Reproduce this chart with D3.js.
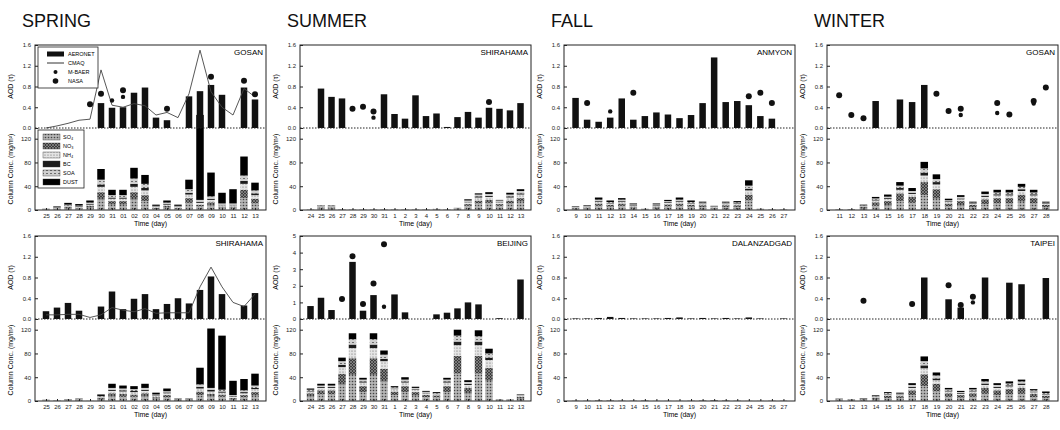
<!DOCTYPE html>
<html>
<head>
<meta charset="utf-8">
<script src="https://cdn.jsdelivr.net/npm/d3@7"></script>
<style>
  body { margin: 0; background: #fff; }
  svg { font-family: "Liberation Sans", Arial, sans-serif; }
</style>
</head>
<body>
<div id="chart"></div>
<script>
// ---- data ----
const seasons = ["SPRING", "SUMMER", "FALL", "WINTER"];
const species = ["SO₄", "NO₃", "NH₄", "BC", "SOA", "DUST"];

const springDays = ["25","26","27","28","29","30","31","01","02","03","04","05","06","07","08","09","10","11","12","13"];
const summerDays = ["24","25","26","27","28","29","30","31","1","2","3","4","5","6","7","8","9","10","11","12","13"];
const fallDays = ["9","10","11","12","13","14","15","16","17","18","19","20","21","22","23","24","25","26","27"];
const winterDays = ["11","12","13","14","15","16","17","18","19","20","21","22","23","24","25","26","27","28"];

const aodTicks = [0, 0.4, 0.8, 1.2, 1.6];
const beijingAodTicks = [0, 1, 2, 3, 4, 5];
const concTicks = [0, 40, 80, 120];

// spring - Gosan
const gosanSpringAeronet = [null,null,null,null,null,0.48,0.39,0.40,0.68,0.78,0.20,0.15,null,0.61,0.71,0.83,0.64,null,0.78,0.55];
const gosanSpringCmaq = [0.00,0.04,0.09,0.15,0.17,1.12,0.44,0.40,0.47,0.43,0.25,0.30,0.20,0.66,1.50,0.70,0.40,0.25,0.76,0.60];
const gosanSpringMbaer = [null,null,null,null,null,null,0.53,0.60,null,null,null,null,null,null,null,null,null,null,null,null];
const gosanSpringNasa = [null,null,null,null,0.46,0.66,null,0.73,null,null,null,0.37,null,null,null,0.99,null,null,0.91,0.65];
const gosanSpringConc = [
  [0.5,0.3,0.3,0.2,0.3,0.4],[1.5,1,0.8,0.5,0.7,1.5],[3,2,1.5,1,1.5,3],[2.5,1.5,1.5,1,1,2.5],
  [4,3,2,1.5,2,3.5],[18,12,9,4,8,18],[9,6,4,2,4,9],[9,6,4,2,4,9],[18,12,9,5,9,18],[15,10,8,4,7,15],
  [2,1.5,1.5,1,1,2],[4,3,2,1.5,2,3.5],[2,1.5,1.5,1,1,2],[12,8,6,3,6,16],[6,3,3,2,3,143],
  [8,5,4,2,4,40],[4,2,2,1,2,18],[4,2,2,1,2,24],[20,14,10,5,9,32],[11,8,6,3,5,13]
];

// spring - Shirahama
const shirahamaSpringAeronet = [0.15,0.22,0.31,0.16,null,0.24,0.53,0.19,0.39,0.48,0.19,0.29,0.40,0.30,0.56,0.82,0.48,null,0.26,0.50];
const shirahamaSpringCmaq = [0.08,0.08,0.09,0.09,0.03,0.08,0.22,0.17,0.14,0.20,0.11,0.12,0.12,0.12,0.62,1.00,0.62,0.32,0.24,0.48];
const shirahamaSpringConc = [
  [0.6,0.3,0.3,0.2,0.3,0.3],[0.3,0.2,0.2,0.1,0.1,0.1],[1,0.5,0.5,0.3,0.3,0.4],[1.3,0.7,0.6,0.4,0.4,0.6],
  [0.2,0.1,0.1,0,0.1,0],[3,2,1.5,1,1,2.5],[8,5,4,2,3,7],[7,5,4,2,3,5],[7,4,4,2,3,5],[8,5,4,2,3,7],
  [4,2.5,2,1,1.5,3],[6,4,3,1.5,2,4.5],[1,0.7,0.6,0.4,0.4,0.9],[1,0.7,0.6,0.4,0.4,0.9],[10,6,5,3,4,28],
  [8,4,4,3,3,100],[7,4,3,2,3,91],[3,2,2,1,2,24],[6,4,3,2,3,19],[9,6,5,2,4,20]
];

// summer - Shirahama
const shirahamaSummerAeronet = [null,0.76,0.60,0.57,null,null,null,0.65,0.27,0.18,0.63,0.23,0.28,0.02,0.21,0.31,0.20,0.39,0.37,0.34,0.48];
const shirahamaSummerMbaer = [null,null,null,null,null,null,0.20,null,null,null,null,null,null,null,null,null,null,null,null,null,null];
const shirahamaSummerNasa = [null,null,null,null,0.37,0.41,0.32,null,null,null,null,null,null,null,null,null,null,0.50,null,null,null];
const shirahamaSummerConc = [
  [0.4,0.2,0.2,0.1,0.1,0],[3,1.5,1.5,0.5,1,0.5],[3,1.5,1.5,0.5,1,0.5],[0.6,0.3,0.3,0.1,0.2,0],
  [0.4,0.2,0.2,0.1,0.1,0],[0.4,0.2,0.2,0.1,0.1,0],[0.4,0.2,0.2,0.1,0.1,0],[0.4,0.2,0.2,0.1,0.1,0],
  [0.4,0.2,0.2,0.1,0.1,0],[0.4,0.2,0.2,0.1,0.1,0],[0.4,0.2,0.2,0.1,0.1,0],[0.4,0.2,0.2,0.1,0.1,0],
  [0.8,0.4,0.4,0.1,0.3,0],[0.4,0.2,0.2,0.1,0.1,0],[1.6,0.8,0.8,0.3,0.5,0],[7,3,3,1,2,2],
  [11,5,5,2,3,2],[12,5,5,2,3,3],[7,3,3,1,2,1],[11,5,5,2,3,3],[14,6,6,2,4,3]
];

// summer - Beijing
const beijingSummerAeronet = [0.78,1.28,0.54,null,3.44,0.50,1.44,null,1.48,0.40,null,null,0.28,0.38,0.64,1.00,0.88,null,0.05,null,2.38];
const beijingSummerMbaer = [null,null,null,null,null,null,null,0.74,null,null,null,null,null,null,null,null,null,null,null,null,null];
const beijingSummerNasa = [null,null,null,1.20,3.78,0.90,2.14,4.50,null,null,null,null,null,null,null,null,null,null,null,null,null];
const beijingSummerConc = [
  [8,5,3,1,2,2],[11,7,4,1.5,2.5,3],[11,7,4,1.5,2.5,3],[28,18,11,4,6,6],[44,28,17,6,9,10],
  [15,10,6,2,3,3],[44,28,17,6,9,10],[33,21,13,4,7,7],[10,6,4,1,2,2],[15,10,6,2,3,4],
  [9,6,4,1,2,2],[6.5,4,2.5,1,1.5,1.5],[6,3.5,2,1,1,1.5],[15,10,6,2,3,3],[46,30,18,6,10,10],
  [13,9,5,2,3,3],[46,30,18,6,9,10],[34,22,13,4,7,8],[1,0.8,0.5,0.2,0.3,0.2],[1,0.8,0.5,0.2,0.3,0.2],
  [4,3,1.5,0.5,1,1]
];

// fall - Anmyon
const anmyonFallAeronet = [0.58,0.16,0.12,0.20,0.57,0.16,0.23,0.30,0.26,0.19,0.25,0.48,1.36,0.50,0.52,0.44,0.23,0.18,null];
const anmyonFallMbaer = [null,null,null,0.32,null,null,null,null,null,null,null,null,null,null,null,null,null,null,null];
const anmyonFallNasa = [null,0.48,null,null,null,0.68,null,null,null,null,null,null,null,null,null,0.61,0.68,0.48,null];
const anmyonFallConc = [
  [2,1.2,0.9,0.4,0.6,0.9],[2.8,1.6,1.2,0.6,0.8,1],[7,4,3,1.5,2,3.5],[5.5,3,2.5,1,1.5,2.5],
  [7,4,3,1.5,2,2.5],[4,2,1.5,0.8,1.2,1.5],[0.7,0.4,0.3,0.2,0.2,0.2],[4,2,1.5,0.8,1.2,1.5],
  [6,3.5,2.5,1.2,1.8,2],[7,4,3,1.5,2,3.5],[5.5,3,2.5,1,1.5,2.5],[5,3,2,1,1.5,1.5],
  [2.5,1.5,1,0.5,0.7,0.8],[5,3,2,1,1.5,1.5],[5,3,2.5,1,1.5,2],[16,10,7,3,5,9],
  [0.7,0.4,0.3,0.2,0.2,0.2],[0.4,0.2,0.15,0.1,0.1,0.05],[0.4,0.2,0.15,0.1,0.1,0.05]
];

// fall - Dalanzadgad
const dalanFallAeronet = [0.01,0.01,0.02,0.04,0.02,0.01,0.01,0.01,0.02,0.03,0.01,0.02,0.01,0.02,0.01,0.03,0.01,null,0.01];
const dalanFallConc = [
  [0.2,0.1,0.05,0.05,0.05,0.1],[0.2,0.1,0.05,0.05,0.05,0.1],[0.4,0.2,0.1,0.1,0.1,0.3],[0.3,0.2,0.1,0.05,0.1,0.3],
  [0.2,0.1,0.05,0.05,0.05,0.1],[0.2,0.1,0.05,0.05,0.05,0.1],[0.4,0.2,0.1,0.1,0.1,0.2],[0.1,0.05,0.05,0.02,0.03,0.05],
  [0.1,0.05,0.05,0.02,0.03,0.05],[0.1,0.05,0.02,0.02,0.02,0.05],[0.2,0.1,0.05,0.05,0.05,0.1],[0.4,0.2,0.1,0.1,0.1,0.2],
  [0.5,0.3,0.2,0.1,0.1,0.4],[0.4,0.2,0.1,0.1,0.1,0.2],[0.2,0.1,0.05,0.05,0.05,0.1],[0.1,0.05,0.02,0.02,0.02,0.05],
  [0.1,0.05,0.05,0.02,0.03,0.05],[0.2,0.1,0.05,0.05,0.05,0.1],[0.2,0.1,0.05,0.05,0.05,0.1]
];

// winter - Gosan
const gosanWinterAeronet = [null,null,null,0.52,null,0.55,0.50,0.83,null,null,null,null,null,null,null,null,null,null];
const gosanWinterMbaer = [null,null,null,null,null,null,null,null,null,null,0.25,null,null,0.29,null,null,0.47,null];
const gosanWinterNasa = [0.63,0.25,0.19,null,null,null,null,null,0.66,0.33,0.37,null,null,0.48,0.26,null,0.52,0.78];
const gosanWinterConc = [
  [0.3,0.3,0.1,0.1,0.1,0.1],[0.5,0.4,0.2,0.1,0.1,0.2],[3,2.5,1,0.5,0.8,1.2],[7,6,3,1.5,2,2.5],
  [8,7,3.5,1.5,2.5,3.5],[15,13,6,3,4,6],[12,10,5,2,3,5],[25,22,11,5,7,11],[19,16,8,4,5,8],
  [6,5,2.5,1.2,1.8,2.5],[8,7,3,1.5,2.5,3],[4.5,4,2,1,1,1.5],[10,8,4,2,3,4],[11,9,4.5,2,3,4.5],
  [11,9,4.5,2,3,4.5],[14,12,6,3,4,5],[11,9,4.5,2,3,4.5],[4.5,4,2,1,1,1.5]
];

// winter - Taipei
const taipeiWinterAeronet = [null,null,null,null,null,null,null,0.80,null,0.38,0.22,null,0.80,null,0.70,0.67,null,0.79];
const taipeiWinterMbaer = [null,null,null,null,null,null,null,null,null,null,null,0.32,null,null,null,null,null,null];
const taipeiWinterNasa = [null,null,0.35,null,null,null,0.29,null,null,0.65,0.27,0.43,null,null,null,null,null,null];
const taipeiWinterConc = [
  [1.3,1,0.5,0.3,0.4,0.5],[1,0.8,0.4,0.2,0.3,0.3],[1.6,1.3,0.6,0.4,0.5,0.6],[3.3,2.6,1.3,0.7,1,1.1],
  [5,4,2,1,1.5,1.5],[4.6,3.6,1.8,1,1.4,1.6],[10,8,4,2,3,3],[25,20,10,5,7,8],[16,13,6,3,5,5],
  [7,6,3,1.5,2,2.5],[5.5,4.5,2.3,1.2,1.7,1.8],[7,6,3,1.5,2,2.5],[12,10,5,2.5,3.5,4],[10,8,4,2,3,3],
  [11,9,4.5,2,3,3.5],[12,10,5,2.5,3.5,3],[6.5,5.5,2.7,1.3,2,2],[5,4,2,1,1.5,2.5]
];

// ---- layout ----
const width = 1060, height = 430;
const colX = [35, 300, 564, 827];
const rowY = [45, 236];
const plotW = 231, aodH = 83, concH = 82;
const concMax = 138;
const aodBarW = 6.5, concBarW = 7.5;

const panels = [
  { col: 0, row: 0, station: "GOSAN", days: springDays, aeronet: gosanSpringAeronet, cmaq: gosanSpringCmaq,
    mbaer: gosanSpringMbaer, nasa: gosanSpringNasa, conc: gosanSpringConc, aodMax: 1.6, ticks: aodTicks, legend: true },
  { col: 0, row: 1, station: "SHIRAHAMA", days: springDays, aeronet: shirahamaSpringAeronet, cmaq: shirahamaSpringCmaq,
    mbaer: null, nasa: null, conc: shirahamaSpringConc, aodMax: 1.6, ticks: aodTicks },
  { col: 1, row: 0, station: "SHIRAHAMA", days: summerDays, aeronet: shirahamaSummerAeronet, cmaq: null,
    mbaer: shirahamaSummerMbaer, nasa: shirahamaSummerNasa, conc: shirahamaSummerConc, aodMax: 1.6, ticks: aodTicks },
  { col: 1, row: 1, station: "BEIJING", days: summerDays, aeronet: beijingSummerAeronet, cmaq: null,
    mbaer: beijingSummerMbaer, nasa: beijingSummerNasa, conc: beijingSummerConc, aodMax: 5, ticks: beijingAodTicks },
  { col: 2, row: 0, station: "ANMYON", days: fallDays, aeronet: anmyonFallAeronet, cmaq: null,
    mbaer: anmyonFallMbaer, nasa: anmyonFallNasa, conc: anmyonFallConc, aodMax: 1.6, ticks: aodTicks },
  { col: 2, row: 1, station: "DALANZADGAD", days: fallDays, aeronet: dalanFallAeronet, cmaq: null,
    mbaer: null, nasa: null, conc: dalanFallConc, aodMax: 1.6, ticks: aodTicks },
  { col: 3, row: 0, station: "GOSAN", days: winterDays, aeronet: gosanWinterAeronet, cmaq: null,
    mbaer: gosanWinterMbaer, nasa: gosanWinterNasa, conc: gosanWinterConc, aodMax: 1.6, ticks: aodTicks },
  { col: 3, row: 1, station: "TAIPEI", days: winterDays, aeronet: taipeiWinterAeronet, cmaq: null,
    mbaer: taipeiWinterMbaer, nasa: taipeiWinterNasa, conc: taipeiWinterConc, aodMax: 1.6, ticks: aodTicks }
];

const svg = d3.select("#chart").append("svg")
  .attr("width", width)
  .attr("height", height);

// grey-scale textures like the scanned figure
const defs = svg.append("defs");
function pattern(id, w, h, bg, draw) {
  const p = defs.append("pattern").attr("id", id).attr("patternUnits", "userSpaceOnUse")
    .attr("width", w).attr("height", h);
  p.append("rect").attr("width", w).attr("height", h).attr("fill", bg);
  draw(p);
}
pattern("pSO4", 3, 3, "#b4b4b4", p => p.append("circle").attr("cx", 1.5).attr("cy", 1.5).attr("r", 0.8).attr("fill", "#444"));
pattern("pNO3", 3, 3, "#3c3c3c", p => p.append("path").attr("d", "M0,3L3,0M0,0L3,3").attr("stroke", "#a0a0a0").attr("stroke-width", 0.6));
pattern("pNH4", 3, 3, "#e4e4e4", p => p.append("circle").attr("cx", 1).attr("cy", 1).attr("r", 0.6).attr("fill", "#666"));
pattern("pSOA", 4, 3, "#cfcfcf", p => p.append("path").attr("d", "M0,1.5H2").attr("stroke", "#555").attr("stroke-width", 0.8));
const speciesFill = ["url(#pSO4)", "url(#pNO3)", "url(#pNH4)", "#1c1c1c", "url(#pSOA)", "#000"];

// season titles
svg.selectAll("text.season")
  .data(seasons)
  .join("text")
  .attr("class", "season")
  .attr("x", (d, i) => colX[i] - 13)
  .attr("y", 27)
  .attr("font-size", 18)
  .attr("fill", "#111")
  .text(d => d);

panels.forEach(drawPanel);

function drawPanel(p, idx) {
  const g = svg.append("g")
    .attr("transform", `translate(${colX[p.col]},${rowY[p.row]})`);

  const x = d3.scalePoint().domain(p.days).range([0, plotW]).padding(1);
  const yA = d3.scaleLinear().domain([0, p.aodMax]).range([aodH, 0]);
  const yC = d3.scaleLinear().domain([0, concMax]).range([aodH + concH, aodH]);

  defs.append("clipPath").attr("id", "clip" + idx)
    .append("rect").attr("width", plotW).attr("height", aodH + concH);

  // column concentration, stacked by species
  const rows = p.conc.map((c, i) => {
    const o = { day: p.days[i] };
    species.forEach((s, k) => o[s] = c[k]);
    return o;
  });
  const stacked = d3.stack().keys(species)(rows);
  g.append("g")
    .attr("clip-path", `url(#clip${idx})`)
    .selectAll("g")
    .data(stacked)
    .join("g")
    .attr("fill", (d, k) => speciesFill[k])
    .selectAll("rect")
    .data(d => d)
    .join("rect")
    .attr("x", d => x(d.data.day) - concBarW / 2)
    .attr("y", d => yC(d[1]))
    .attr("width", concBarW)
    .attr("height", d => Math.max(0, yC(d[0]) - yC(d[1])));

  // AERONET bars
  const bars = p.days.map((d, i) => ({ day: d, v: p.aeronet[i] })).filter(d => d.v != null);
  g.append("g")
    .selectAll("rect")
    .data(bars)
    .join("rect")
    .attr("x", d => x(d.day) - aodBarW / 2)
    .attr("y", d => yA(d.v))
    .attr("width", aodBarW)
    .attr("height", d => aodH - yA(d.v))
    .attr("fill", "#111");

  // CMAQ line
  if (p.cmaq) {
    const line = d3.line()
      .defined(d => d.v != null)
      .x(d => x(d.day))
      .y(d => yA(d.v));
    g.append("path")
      .datum(p.days.map((d, i) => ({ day: d, v: p.cmaq[i] })))
      .attr("fill", "none")
      .attr("stroke", "#444")
      .attr("stroke-width", 0.9)
      .attr("d", line);
  }

  // satellite retrievals
  [[p.mbaer, 2.2], [p.nasa, 3]].forEach(([vals, r]) => {
    if (!vals) return;
    g.append("g")
      .selectAll("circle")
      .data(p.days.map((d, i) => ({ day: d, v: vals[i] })).filter(d => d.v != null))
      .join("circle")
      .attr("cx", d => x(d.day))
      .attr("cy", d => yA(d.v))
      .attr("r", r)
      .attr("fill", "#111");
  });

  // dotted divider between AOD and concentration
  g.append("line")
    .attr("x1", 0).attr("x2", plotW)
    .attr("y1", aodH).attr("y2", aodH)
    .attr("stroke", "#222")
    .attr("stroke-width", 1)
    .attr("stroke-dasharray", "1.5,1.5");

  g.append("rect")
    .attr("width", plotW)
    .attr("height", aodH + concH)
    .attr("fill", "none")
    .attr("stroke", "#222")
    .attr("stroke-width", 1);

  // axes
  const fmt = p.aodMax > 2 ? d3.format("d") : d3.format(".1f");
  const axA = g.append("g").call(d3.axisLeft(yA).tickValues(p.ticks).tickSize(-3).tickPadding(4).tickFormat(fmt));
  const axC = g.append("g").call(d3.axisLeft(yC).tickValues(concTicks).tickSize(-3).tickPadding(4));
  const axX = g.append("g").attr("transform", `translate(0,${aodH + concH})`)
    .call(d3.axisBottom(x).tickSize(-2).tickPadding(4));
  [axA, axC, axX].forEach(a => {
    a.select(".domain").remove();
    a.attr("font-family", null).attr("font-size", 6);
    a.selectAll("line").attr("stroke", "#222");
    a.selectAll("text").attr("fill", "#222");
  });

  // labels
  g.append("text")
    .attr("transform", `translate(-22,${aodH / 2}) rotate(-90)`)
    .attr("text-anchor", "middle")
    .attr("font-size", 7)
    .text("AOD (τ)");
  g.append("text")
    .attr("transform", `translate(-22,${aodH + concH / 2}) rotate(-90)`)
    .attr("text-anchor", "middle")
    .attr("font-size", 7)
    .text("Column Conc. (mg/m²)");
  g.append("text")
    .attr("x", plotW / 2)
    .attr("y", aodH + concH + 16)
    .attr("text-anchor", "middle")
    .attr("font-size", 7)
    .text("Time (day)");
  g.append("text")
    .attr("x", plotW - 3)
    .attr("y", 10)
    .attr("text-anchor", "end")
    .attr("font-size", 8)
    .text(p.station);

  if (p.legend) drawLegends(g);
}

function drawLegends(g) {
  // AOD legend
  const la = g.append("g").attr("transform", "translate(3,2)");
  la.append("rect").attr("width", 60).attr("height", 41)
    .attr("fill", "#fff").attr("stroke", "#222").attr("stroke-width", 0.8);
  const aodItems = ["AERONET", "CMAQ", "M-BAER", "NASA"];
  aodItems.forEach((name, i) => {
    const y = 7 + i * 9;
    if (i === 0) la.append("rect").attr("x", 9).attr("y", y - 2.5).attr("width", 17).attr("height", 5).attr("fill", "#111");
    if (i === 1) la.append("line").attr("x1", 9).attr("x2", 26).attr("y1", y).attr("y2", y).attr("stroke", "#333");
    if (i === 2) la.append("circle").attr("cx", 17.5).attr("cy", y).attr("r", 2).attr("fill", "#111");
    if (i === 3) la.append("circle").attr("cx", 17.5).attr("cy", y).attr("r", 2.8).attr("fill", "#111");
    la.append("text").attr("x", 30).attr("y", y + 2).attr("font-size", 5.5).text(name);
  });

  // species legend
  const lc = g.append("g").attr("transform", `translate(3,${aodH + 2})`);
  lc.append("rect").attr("width", 46).attr("height", 58)
    .attr("fill", "#fff").attr("stroke", "#222").attr("stroke-width", 0.8);
  species.forEach((s, i) => {
    const y = 7 + i * 9;
    lc.append("rect").attr("x", 5).attr("y", y - 3).attr("width", 17).attr("height", 6)
      .attr("fill", speciesFill[i]).attr("stroke", "#333").attr("stroke-width", 0.4);
    lc.append("text").attr("x", 25).attr("y", y + 2).attr("font-size", 5.5).text(s);
  });
}
</script>
</body>
</html>
